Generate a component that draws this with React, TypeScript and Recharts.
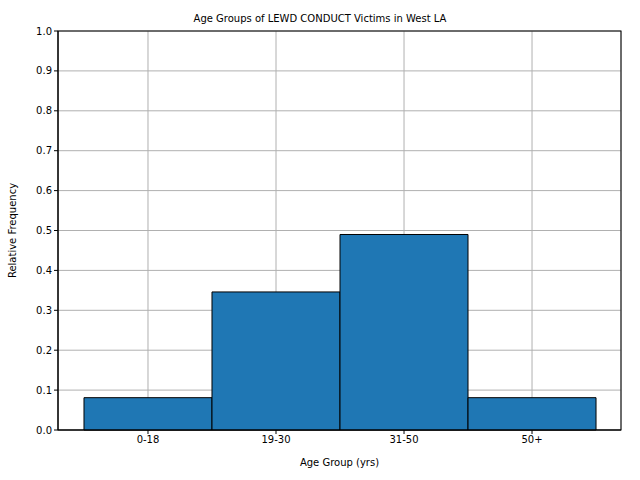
import { Bar, BarChart, CartesianGrid, XAxis, YAxis } from "recharts";

const ageGroups = ["0-18", "19-30", "31-50", "50+"];
const relFreq = [0.081, 0.346, 0.49, 0.081];
const yTicks = [0, 0.1, 0.2, 0.3, 0.4, 0.5, 0.6, 0.7, 0.8, 0.9, 1.0];

const data = ageGroups.map((g, i) => ({ idx: i, group: g, freq: relFreq[i] }));

const font = "DejaVu Sans";

const App = () => {
    return <div style={{ position: "absolute", left: 0, top: 0, width: 640, height: 480, background: "#fff", fontFamily: font }}>
        <div style={{ position: "absolute", top: 13, width: 640, textAlign: "center", fontSize: 10 }}>
            Age Groups of LEWD CONDUCT Victims in West LA
        </div>
        <BarChart width={640} height={480} data={data} margin={{ top: 31, right: 19, left: 0, bottom: 0 }}>
            <CartesianGrid stroke="#b0b0b0" strokeWidth={1} />
            <XAxis
                dataKey="idx"
                type="number"
                domain={[-0.703, 3.695]}
                ticks={[0, 1, 2, 3]}
                tickFormatter={(v) => ageGroups[v]}
                height={50}
                tick={{ fontSize: 10, fill: "#000", fontFamily: font }}
                stroke="#000"
                tickSize={4}
                label={{ value: "Age Group (yrs)", position: "insideBottom", offset: 14, fontSize: 10, fill: "#000", fontFamily: font }}
            />
            <YAxis
                domain={[0, 1]}
                ticks={yTicks}
                tickFormatter={(v) => v.toFixed(1)}
                width={58}
                tick={{ fontSize: 10, fill: "#000", fontFamily: font }}
                stroke="#000"
                tickSize={4}
                label={{ value: "Relative Frequency", angle: -90, position: "insideLeft", offset: 12, fontSize: 10, fill: "#000", fontFamily: font, style: { textAnchor: "middle" } }}
            />
            <Bar dataKey="freq" fill="#1f77b4" stroke="#000" strokeWidth={1} barSize={128} isAnimationActive={false} />
            <rect x={58} y={31} width={563} height={399} fill="none" stroke="#000" />
        </BarChart>
    </div>
}

export default App;
